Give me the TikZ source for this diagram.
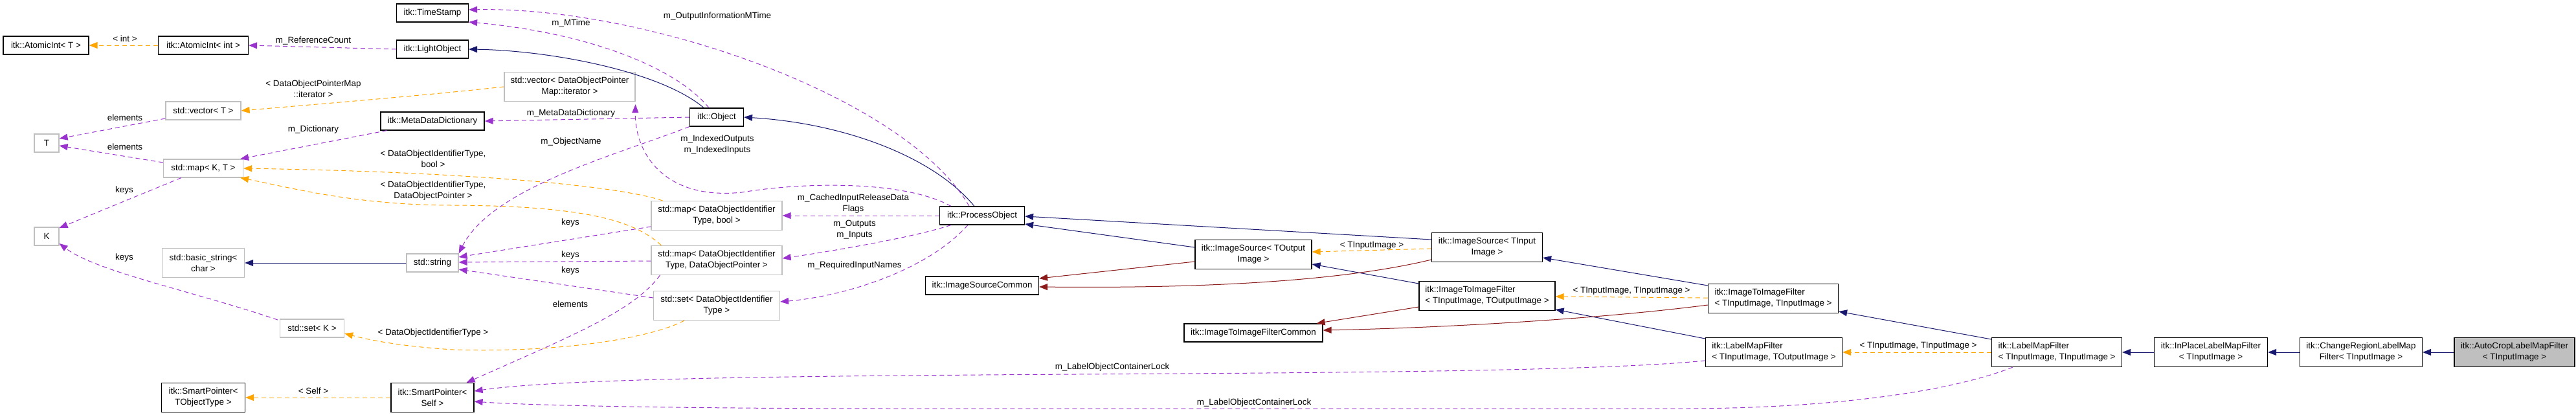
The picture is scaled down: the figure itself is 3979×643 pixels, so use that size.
\documentclass[tikz,border=0pt]{standalone}
\usepackage{fontspec}
\setmainfont{Liberation Sans}
\usetikzlibrary{arrows.meta,calc}
\definecolor{navyc}{HTML}{191970}
\definecolor{redc}{HTML}{8B1A1A}
\definecolor{orgc}{HTML}{FFA500}
\definecolor{purc}{HTML}{9A32CD}
\definecolor{grayb}{HTML}{BFBFBF}
\begin{document}
\begin{tikzpicture}[x=1pt,y=-1pt,
  font=\fontsize{13.4}{17}\selectfont,
  cls/.style={draw=black,line width=1.2pt,inner sep=0pt,align=center},
  stdc/.style={draw=grayb,line width=1.2pt,inner sep=0pt,align=center},
  tip/.style={-{Triangle[length=13pt,width=10pt,sep=0pt]}},
  inh/.style={tip,draw=navyc,line width=1pt},
  prot/.style={tip,draw=redc,line width=1pt},
  tmpl/.style={tip,draw=orgc,line width=1pt,dash pattern=on 7pt off 5pt},
  use/.style={tip,draw=purc,line width=1pt,dash pattern=on 7pt off 5pt},
  lbl/.style={inner sep=0pt,align=center}]
\useasboundingbox (0,0) rectangle (3979,643);
\newcommand{\bx}[6]{\node[#1,minimum width=#5pt,minimum height=#6pt] (#2) at #3 {#4};}
\bx{cls}{atT}{(71,70)}{itk::AtomicInt< T >}{132}{28}
\bx{cls}{atInt}{(314,70)}{itk::AtomicInt< int >}{139}{28}
\bx{cls}{ts}{(668,20)}{itk::TimeStamp}{111}{28}
\bx{cls}{lo}{(668,76)}{itk::LightObject}{111}{28}
\bx{stdc}{vecT}{(314,171)}{std::vector< T >}{116}{28}
\bx{stdc}{T}{(72,221)}{T}{38}{28}
\bx{cls}{mdd}{(668,187)}{itk::MetaDataDictionary}{160}{28}
\bx{stdc}{mapKT}{(314,260)}{std::map< K, T >}{123}{28}
\bx{stdc}{K}{(72,365)}{K}{38}{28}
\bx{stdc}{bstr}{(314,406)}{std::basic\_string<\\char >}{127}{45}
\bx{stdc}{str}{(668,406)}{std::string}{80}{28}
\bx{stdc}{setK}{(482,507)}{std::set< K >}{99}{28}
\bx{cls}{spT}{(314,614)}{itk::SmartPointer<\\TObjectType >}{129}{45}
\bx{cls}{spS}{(668,614)}{itk::SmartPointer<\\Self >}{128}{45}
\bx{stdc}{vecIt}{(880,134)}{std::vector< DataObjectPointer\\Map::iterator >}{202}{45}
\bx{cls}{obj}{(1107,181)}{itk::Object}{83}{28}
\bx{stdc}{mapB}{(1107,333)}{std::map< DataObjectIdentifier\\Type, bool >}{202}{45}
\bx{stdc}{mapD}{(1107,402)}{std::map< DataObjectIdentifier\\Type, DataObjectPointer >}{202}{45}
\bx{stdc}{setD}{(1107,472)}{std::set< DataObjectIdentifier\\Type >}{195}{45}
\bx{cls}{po}{(1517,333)}{itk::ProcessObject}{131}{28}
\bx{cls}{isc}{(1517,441)}{itk::ImageSourceCommon}{175}{28}
\bx{cls}{isOut}{(1936,393)}{itk::ImageSource< TOutput\\Image >}{180}{45}
\bx{cls}{i2ic}{(1936,514)}{itk::ImageToImageFilterCommon}{214}{28}
\bx{cls}{isIn}{(2297,382)}{itk::ImageSource< TInput\\Image >}{171}{45}
\node[cls,align=left,minimum width=210pt,minimum height=45pt] (i2iOut) at (2297,457) {itk::ImageToImageFilter\\< TInputImage, TOutputImage >};
\node[cls,align=left,minimum width=201pt,minimum height=45pt] (i2iIn) at (2739,461) {itk::ImageToImageFilter\\< TInputImage, TInputImage >};
\node[cls,align=left,minimum width=211pt,minimum height=45pt] (lmfOut) at (2740,544) {itk::LabelMapFilter\\< TInputImage, TOutputImage >};
\node[cls,align=left,minimum width=201pt,minimum height=45pt] (lmfIn) at (3177,544) {itk::LabelMapFilter\\< TInputImage, TInputImage >};
\bx{cls}{inpl}{(3415,544)}{itk::InPlaceLabelMapFilter\\< TInputImage >}{175}{45}
\bx{cls}{crl}{(3647,544)}{itk::ChangeRegionLabelMap\\Filter< TInputImage >}{189}{45}
\bx{cls,fill=grayb}{acl}{(3884,544)}{itk::AutoCropLabelMapFilter\\< TInputImage >}{186}{45}

% inheritance
\draw[inh] ($(obj.north)+(-20,0)$) .. controls (1020,110) and (850,78) .. (lo.east);
\draw[inh] ($(po.north)+(-12,0)$) .. controls (1440,240) and (1300,190) .. (obj.east);
\draw[inh] (str) -- (bstr);
\draw[inh] ($(isOut.west)+(0,-11)$) -- ($(po.east)+(0,13)$);
\draw[inh] ($(isIn.west)+(0,-12)$) -- ($(po.east)+(0,1)$);
\draw[inh] ($(i2iOut.west)+(0,-19)$) -- ($(isOut.east)+(0,15)$);
\draw[inh] ($(i2iIn.west)+(0,-20)$) -- ($(isIn.east)+(0,16)$);
\draw[inh] ($(lmfOut.west)+(0,-21)$) -- ($(i2iOut.east)+(0,21)$);
\draw[inh] ($(lmfIn.west)+(0,-20)$) -- ($(i2iIn.east)+(0,20)$);
\draw[inh] (inpl) -- (lmfIn);
\draw[inh] (crl) -- (inpl);
\draw[inh] (acl) -- (crl);
% protected
\draw[prot] ($(isOut.west)+(0,11)$) -- ($(isc.east)+(0,-11)$);
\draw[prot] ($(isIn.west)+(0,19)$) .. controls (2050,440) and (1800,445) .. ($(isc.east)+(0,2)$);
\draw[prot] ($(i2iOut.west)+(0,17)$) -- ($(i2ic.north east)+(-10,0)$);
\draw[prot] ($(i2iIn.west)+(0,10)$) .. controls (2450,495) and (2200,507) .. ($(i2ic.east)+(0,-4)$);
% templates
\draw[tmpl] (atInt) -- (atT);
\draw[tmpl] (vecIt.west) .. controls (650,148) and (500,160) .. (vecT.east);
\draw[tmpl] ($(mapB.north west)+(18,0)$) .. controls (950,285) and (700,265) .. ($(mapKT.east)+(0,0)$);
\draw[tmpl] ($(mapD.north west)+(16,0)$) .. controls (980,340) and (900,318) .. (700,317) .. controls (550,317) and (450,290) .. ($(mapKT.south east)+(-5,0)$);
\draw[tmpl] ($(setD.south west)+(48,0)$) .. controls (1000,525) and (850,545) .. (700,540) .. controls (620,535) and (570,525) .. ($(setK.east)+(0,8)$);
\draw[tmpl] (spS) -- (spT);
\draw[tmpl] ($(isIn.west)+(0,2)$) -- ($(isOut.east)+(0,-4)$);
\draw[tmpl] (i2iIn) -- (i2iOut);
\draw[tmpl] (lmfIn) -- (lmfOut);
% usage
\draw[use] (lo.west) -- (atInt.east);
\draw[use] ($(vecT.west)+(0,12)$) -- ($(T.east)+(0,-7)$);
\draw[use] ($(mapKT.west)+(0,-9)$) -- ($(T.east)+(0,4)$);
\draw[use] ($(mapKT.south west)+(28,0)$) -- ($(K.east)+(0,-13)$);
\draw[use] ($(setK.west)+(-3,-13)$) .. controls (300,450) and (150,420) .. ($(K.east)+(0,11)$);
\draw[use] ($(mdd.south west)+(10,0)$) -- ($(mapKT.north east)+(-5,0)$);
\draw[use] (obj.west) -- (mdd.east);
\draw[use] ($(obj.north)+(-12,0)$) .. controls (1040,100) and (900,50) .. ($(ts.east)+(0,14)$);
\draw[use] ($(po.north)+(-20,0)$) .. controls (1400,150) and (1000,10) .. ($(ts.east)+(0,-5)$);
\draw[use] (obj.south west) .. controls (950,240) and (760,290) .. ($(str.north east)+(0,0)$);
\draw[use] ($(mapB.west)+(0,17)$) -- ($(str.east)+(0,-9)$);
\draw[use] ($(mapD.west)+(0,1)$) -- ($(str.east)+(0,-1)$);
\draw[use] ($(setD.west)+(0,-12)$) -- ($(str.east)+(0,10)$);
\draw[use] ($(po.north west)+(18,0)$) .. controls (1400,280) and (1250,280) .. (1146,297) .. controls (1020,310) and (980,230) .. ($(vecIt.south east)+(0,4)$);
\draw[use] (po.west) -- (mapB.east);
\draw[use] ($(po.south west)+(18,0)$) .. controls (1400,370) and (1250,393) .. ($(mapD.east)+(0,-3)$);
\draw[use] ($(po.south)+(-22,0)$) .. controls (1430,420) and (1300,458) .. ($(setD.east)+(0,-6)$);
\draw[use] ($(mapD.south west)+(14,0)$) .. controls (980,480) and (880,520) .. ($(spS.north east)+(-12,0)$);
\draw[use] ($(lmfOut.west)+(0,13)$) .. controls (2300,590) and (1000,565) .. ($(spS.east)+(0,-10)$);
\draw[use] ($(lmfIn.south west)+(33,0)$) .. controls (3000,610) and (2800,631) .. (2600,631) -- (1400,631) .. controls (1000,631) and (800,625) .. ($(spS.east)+(0,6)$);
% labels
\node[lbl] at (193,60) {< int >};
\node[lbl] at (484,63) {m\_ReferenceCount};
\node[lbl] at (484,137) {< DataObjectPointerMap\\::iterator >};
\node[lbl] at (193,182) {elements};
\node[lbl] at (193,227) {elements};
\node[lbl] at (192,294) {keys};
\node[lbl] at (192,398) {keys};
\node[lbl] at (484,200) {m\_Dictionary};
\node[lbl] at (669,245) {< DataObjectIdentifierType,\\bool >};
\node[lbl] at (669,295) {< DataObjectIdentifierType,\\DataObjectPointer >};
\node[lbl] at (669,514) {< DataObjectIdentifierType >};
\node[lbl] at (484,604) {< Self >};
\node[lbl] at (882,36) {m\_MTime};
\node[lbl] at (1108,25) {m\_OutputInformationMTime};
\node[lbl] at (882,175) {m\_MetaDataDictionary};
\node[lbl] at (882,219) {m\_ObjectName};
\node[lbl] at (1108,224) {m\_IndexedOutputs\\m\_IndexedInputs};
\node[lbl] at (881,344) {keys};
\node[lbl] at (881,394) {keys};
\node[lbl] at (881,418) {keys};
\node[lbl] at (881,470) {elements};
\node[lbl] at (1318,315) {m\_CachedInputReleaseData\\Flags};
\node[lbl] at (1320,355) {m\_Outputs\\m\_Inputs};
\node[lbl] at (1320,410) {m\_RequiredInputNames};
\node[lbl] at (1718,567) {m\_LabelObjectContainerLock};
\node[lbl] at (1937,622) {m\_LabelObjectContainerLock};
\node[lbl] at (2119,379) {< TInputImage >};
\node[lbl] at (2520,449) {< TInputImage, TInputImage >};
\node[lbl] at (2963,534) {< TInputImage, TInputImage >};
\end{tikzpicture}
\end{document}
